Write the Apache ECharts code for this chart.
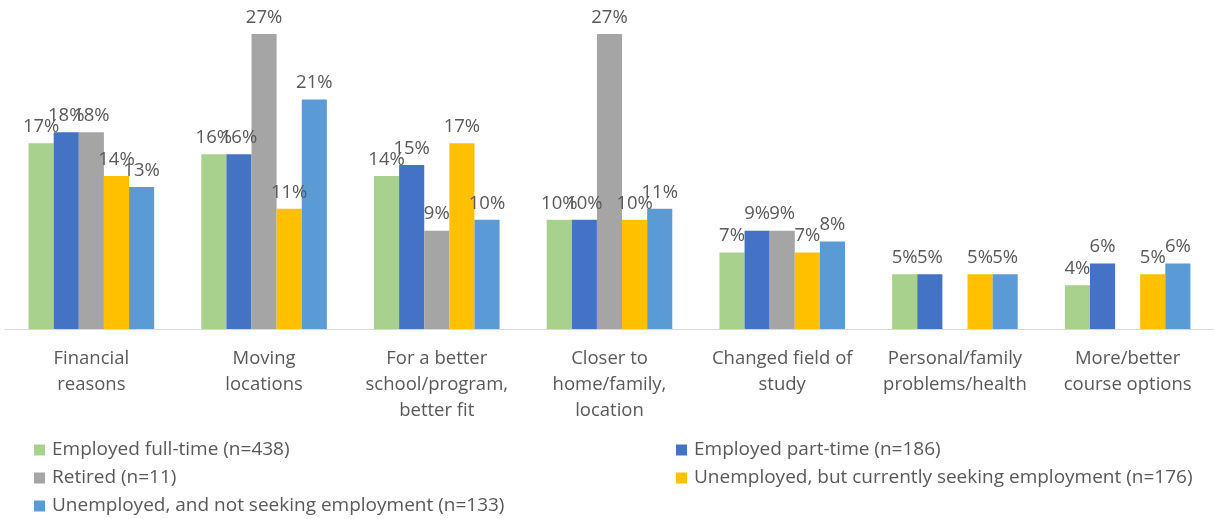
<!DOCTYPE html>
<html>
<head>
<meta charset="utf-8">
<script src="https://cdn.jsdelivr.net/npm/echarts@6/dist/echarts.min.js"></script>
<style>
  html, body { margin: 0; padding: 0; background: #fff; }
  #chart { width: 1214px; height: 519px; }
</style>
</head>
<body>
<div id="chart"></div>
<script>
// Reasons for transferring, by employment status (percent of respondents)
const categories = [
  'Financial\nreasons',
  'Moving\nlocations',
  'For a better\nschool/program,\nbetter fit',
  'Closer to\nhome/family,\nlocation',
  'Changed field of\nstudy',
  'Personal/family\nproblems/health',
  'More/better\ncourse options'
];

const seriesNames = [
  'Employed full-time (n=438)',
  'Employed part-time (n=186)',
  'Retired (n=11)',
  'Unemployed, but currently seeking employment (n=176)',
  'Unemployed, and not seeking employment (n=133)'
];

const employedFullTime   = [17, 16, 14, 10, 7, 5, 4];
const employedPartTime   = [18, 16, 15, 10, 9, 5, 6];
const retired            = [18, 27, 9, 27, 9, null, null];
const unemployedSeeking  = [14, 11, 17, 10, 7, 5, 5];
const unemployedNotSeek  = [13, 21, 10, 11, 8, 5, 6];

const seriesValues = [employedFullTime, employedPartTime, retired, unemployedSeeking, unemployedNotSeek];
const colors = ['#A9D18E', '#4472C4', '#A5A5A5', '#FFC000', '#5B9BD5'];

const FONT = '"Open Sans", "Noto Sans", sans-serif';
const TEXT = '#595959';
const FS = 18.5;

const chart = echarts.init(document.getElementById('chart'), null, { renderer: 'canvas' });

const legendCommon = {
  orient: 'vertical',
  icon: 'rect',
  itemWidth: 11,
  itemHeight: 11,
  itemGap: 8,
  padding: 0,
  height: 120,
  selectedMode: false,
  textStyle: { color: TEXT, fontFamily: FONT, fontSize: 19, lineHeight: 20, padding: [0, 0, 0, 2] }
};

chart.setOption({
  animation: false,
  color: colors,
  textStyle: { fontFamily: FONT },
  grid: { left: 5, top: 34, width: 1213, height: 295, containLabel: false },
  legend: [
    Object.assign({}, legendCommon, {
      left: 34, top: 440,
      data: [seriesNames[0], seriesNames[2], seriesNames[4]]
    }),
    Object.assign({}, legendCommon, {
      left: 676, top: 440,
      data: [seriesNames[1], seriesNames[3]]
    })
  ],
  xAxis: {
    type: 'category',
    data: categories,
    axisLine: { show: true, lineStyle: { color: '#D9D9D9', width: 1 } },
    axisTick: { show: false },
    axisLabel: {
      interval: 0,
      color: TEXT,
      fontFamily: FONT,
      fontSize: FS,
      lineHeight: 26,
      margin: 17
    }
  },
  yAxis: {
    type: 'value',
    min: 0,
    max: 27,
    show: false,
    splitLine: { show: false }
  },
  series: seriesValues.map((vals, i) => ({
    name: seriesNames[i],
    type: 'bar',
    data: vals,
    barGap: '0%',
    barCategoryGap: '27.3%',
    itemStyle: { color: colors[i] },
    label: {
      show: true,
      position: 'top',
      distance: 7,
      color: TEXT,
      fontFamily: FONT,
      fontSize: FS,
      formatter: p => (p.value == null ? '' : p.value + '%')
    }
  }))
});
</script>
</body>
</html>
